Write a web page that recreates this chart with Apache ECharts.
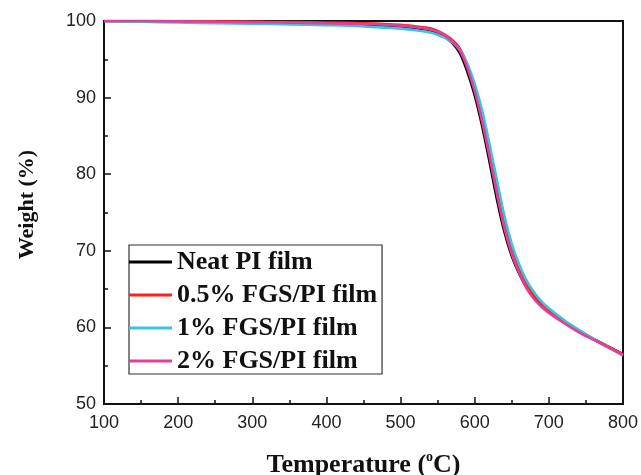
<!DOCTYPE html>
<html><head><meta charset="utf-8">
<script src="https://cdn.jsdelivr.net/npm/echarts@6/dist/echarts.min.js"></script>
<style>html,body{margin:0;padding:0;background:#fff}#c{width:641px;height:475px}</style>
</head><body><div id="c"></div>
<script>
var temps = [100,150,200,250,300,350,400,450,500,520,540,550,560,570,580,590,600,610,620,630,640,650,660,670,680,690,700,720,740,760,780,800];
var neatPI = [100,100,99.95,99.9,99.8,99.7,99.6,99.45,99.3,99.1,98.8,98.4,97.9,97.1,95.8,93.4,90.3,86.3,81.6,76.7,72.5,69.3,67.0,65.2,63.9,62.9,62.1,60.8,59.6,58.5,57.5,56.5];
var fgs05 = [100,100,100,99.95,99.9,99.85,99.8,99.7,99.5,99.3,99.05,98.7,98.2,97.5,96.4,94.3,91.2,87.5,82.9,78.0,73.6,70.1,67.6,65.6,64.2,63.1,62.2,60.8,59.6,58.5,57.5,56.5];
var fgs1 = [100,99.9,99.8,99.7,99.65,99.55,99.45,99.3,99.0,98.8,98.5,98.2,97.8,97.2,96.2,94.4,91.8,88.3,83.9,79.2,74.6,70.9,68.2,66.1,64.6,63.4,62.5,61.0,59.7,58.5,57.4,56.3];
var fgs2 = [100,100,99.95,99.9,99.85,99.8,99.7,99.6,99.4,99.2,98.9,98.6,98.1,97.3,96.1,93.9,90.8,86.9,82.3,77.4,73.0,69.6,67.1,65.1,63.7,62.7,61.9,60.6,59.4,58.4,57.4,56.4];
var names = ['Neat PI film','0.5% FGS/PI film','1% FGS/PI film','2% FGS/PI film'];
var colors = ['#000000','#ff2020','#3cc4dc','#e0409c'];
var xTicks = [100,800,100];
var yTicks = [50,100,10];

function pairs(v){ return temps.map(function(t,i){return [t,v[i]];}); }
var all = [neatPI, fgs05, fgs1, fgs2];
var chart = echarts.init(document.getElementById('c'), null, {renderer:'canvas'});
chart.setOption({
  animation:false,
  backgroundColor:'#fff',
  grid:{left:104, top:21, right:18, bottom:71, show:true, borderColor:'#111', borderWidth:2, containLabel:false, outerBoundsMode:'none'},
  legend:{
    left:129, top:245, orient:'vertical', itemWidth:43, itemHeight:3, itemGap:7, icon:'rect', itemTextGap:10,
    padding:[4,5,0,0], borderColor:'#333', borderWidth:1.2, itemStyle:{borderWidth:0},
    textStyle:{fontFamily:'Liberation Serif', fontWeight:'bold', fontSize:26, color:'#111', lineHeight:25},
    data:names
  },
  xAxis:{
    type:'value', min:xTicks[0], max:xTicks[1], interval:xTicks[2],
    axisLine:{show:true, onZero:false, lineStyle:{color:'#111', width:2}},
    axisTick:{show:true, inside:true, length:7, lineStyle:{color:'#111', width:1.5}},
    minorTick:{show:true, splitNumber:2, length:4, lineStyle:{color:'#111', width:1.5}},
    splitLine:{show:false},
    axisLabel:{fontFamily:'Liberation Sans', fontSize:18, color:'#222', margin:10},
    name:'{m|Temperature (}{s|o}{m|C)}', nameLocation:'middle', nameGap:46,
    nameTextStyle:{rich:{
      m:{fontFamily:'Liberation Serif', fontWeight:'bold', fontSize:26, color:'#111', lineHeight:28, verticalAlign:'bottom'},
      s:{fontFamily:'Liberation Serif', fontWeight:'bold', fontSize:14, color:'#111', lineHeight:28, verticalAlign:'top'}
    }}
  },
  yAxis:{
    type:'value', min:yTicks[0], max:yTicks[1], interval:yTicks[2],
    axisLine:{show:true, onZero:false, lineStyle:{color:'#111', width:2}},
    axisTick:{show:true, inside:true, length:7, lineStyle:{color:'#111', width:1.5}},
    minorTick:{show:true, splitNumber:2, length:4, lineStyle:{color:'#111', width:1.5}},
    splitLine:{show:false},
    axisLabel:{fontFamily:'Liberation Sans', fontSize:18, color:'#222', margin:8},
    name:'Weight (%)', nameLocation:'middle', nameGap:66, nameRotate:90,
    nameTextStyle:{fontFamily:'Liberation Serif', fontWeight:'bold', fontSize:22, color:'#111', padding:[0,0,0,16]}
  },
  series: all.map(function(v,i){
    return {name:names[i], type:'line', data:pairs(v), smooth:0.3, showSymbol:false, symbol:'none',
      lineStyle:{color:colors[i], width:2.6}, itemStyle:{color:colors[i]}, z:2+i};
  })
});
</script></body></html>
